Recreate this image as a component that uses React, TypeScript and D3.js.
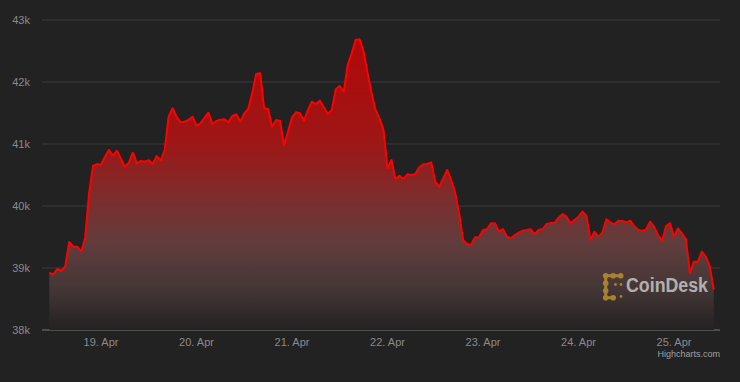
import React from "react";
import * as d3 from "d3";

// Hourly BTC price, first point 18 Apr 2022 11:00 UTC
const startTime = Date.UTC(2022, 3, 18, 11);
const prices: number[] = [
  38924, 38898, 38984, 38956, 39021, 39419, 39344, 39344, 39263, 39478,
  40205, 40645, 40677, 40666, 40795, 40903, 40811, 40892, 40758, 40634,
  40698, 40860, 40688, 40726, 40715, 40737, 40677, 40806, 40731, 40903,
  41440, 41576, 41440, 41350, 41360, 41390, 41440, 41295, 41334, 41420,
  41505, 41323, 41371, 41390, 41398, 41350, 41452, 41479, 41360, 41495,
  41565, 41817, 42129, 42140, 41575, 41565, 41279, 41387, 41371, 40984,
  41199, 41430, 41511, 41495, 41376, 41548, 41682, 41645, 41698, 41591,
  41484, 41548, 41882, 41935, 41843, 42274, 42462, 42677, 42688, 42489,
  42140, 41817, 41548, 41414, 41226, 40608, 40742, 40435, 40489, 40435,
  40511, 40500, 40516, 40624, 40672, 40677, 40704, 40392, 40312, 40446,
  40581, 40419, 40220, 39882, 39452, 39387, 39371, 39495, 39495, 39613,
  39624, 39720, 39720, 39586, 39629, 39505, 39479, 39532, 39570, 39602,
  39615, 39624, 39548, 39613, 39629, 39710, 39725, 39731, 39812, 39871,
  39828, 39720, 39774, 39828, 39909, 39844, 39452, 39586, 39505, 39570,
  39785, 39737, 39705, 39763, 39758, 39737, 39763, 39677, 39613, 39597,
  39624, 39747, 39667, 39532, 39435, 39677, 39720, 39505, 39640, 39560,
  39463, 38914, 39102, 39102, 39263, 39183, 39021, 38656,
];
const yTicks: number[] = [38000, 39000, 40000, 41000, 42000, 43000];
const xTickDates: Date[] = [19, 20, 21, 22, 23, 24, 25].map((d) => new Date(Date.UTC(2022, 3, d)));
const brand = "CoinDesk";
const credit = "Highcharts.com";

type Pt = { t: Date; v: number };
const data: Pt[] = prices.map((v, i) => ({ t: new Date(startTime + i * 3600 * 1000), v }));

const W = 740;
const H = 382;
const plotLeft = 42;
const plotRight = 720;

export default function App() {
  const x = d3
    .scaleUtc()
    .domain([xTickDates[0], xTickDates[xTickDates.length - 1]])
    .range([101, 674]);
  const y = d3.scaleLinear().domain([38000, 43000]).range([330, 20]);
  const fmt = d3.utcFormat("%-d. %b");
  const area = d3
    .area<Pt>()
    .x((d) => x(d.t))
    .y0(y(38000))
    .y1((d) => y(d.v));
  const line = d3
    .line<Pt>()
    .x((d) => x(d.t))
    .y((d) => y(d.v));
  const maxV = d3.max(prices) as number;
  const font = '"Liberation Sans", Arial, Helvetica, sans-serif';

  // logo dots
  const lx = 603;
  const ly = 273;
  const big: [number, number][] = [
    [0, 0], [7.5, 0], [15, 0],
    [0, 7.5], [0, 15],
    [0, 22], [7.5, 22],
  ];
  const small: [number, number][] = [
    [11.5, 10.5], [17, 10.5], [17, 22.5],
  ];

  return (
    <div style={{ position: "fixed", left: 0, top: 0, width: W, height: H }}>
      <svg width={W} height={H} style={{ display: "block" }}>
        <defs>
          <linearGradient id="fillGrad" gradientUnits="userSpaceOnUse" x1={0} x2={0} y1={y(maxV)} y2={y(38000)}>
            <stop offset="0" stopColor="rgb(178,8,8)" />
            <stop offset="0.35" stopColor="rgb(158,22,22)" />
            <stop offset="0.55" stopColor="rgb(125,45,45)" />
            <stop offset="0.7" stopColor="rgb(98,60,60)" />
            <stop offset="0.85" stopColor="rgb(70,55,55)" />
            <stop offset="1" stopColor="rgb(36,34,34)" />
          </linearGradient>
        </defs>
        <rect x={0} y={0} width={W} height={H} fill="#222222" />
        {yTicks.map((t) => (
          <g key={t}>
            <line
              x1={plotLeft}
              x2={plotRight}
              y1={y(t)}
              y2={y(t)}
              stroke={t === 38000 ? "#4d4d4d" : "#3b3b3b"}
              strokeWidth={t === 38000 ? 2 : 1}
            />
            <text x={30} y={y(t) + 4} textAnchor="end" fill="#8a8a8a" fontSize={11} fontFamily={font}>
              {`${t / 1000}k`}
            </text>
          </g>
        ))}
        <path d={area(data) || ""} fill="url(#fillGrad)" />
        <path d={line(data) || ""} fill="none" stroke="#ff0000" strokeWidth={2} strokeLinejoin="round" />
        {xTickDates.map((d) => (
          <text key={d.getTime()} x={x(d)} y={346} textAnchor="middle" fill="#8a8a8a" fontSize={11} fontFamily={font}>
            {fmt(d)}
          </text>
        ))}
        <g opacity={0.85}>
          {big.map(([dx, dy], i) => (
            <circle key={"b" + i} cx={lx + dx + 2.7} cy={ly + dy + 2.7} r={2.8} fill="#b8902e" />
          ))}
          <rect x={lx + 2.7} y={ly + 1.2} width={15} height={3} fill="#b8902e" />
          <rect x={lx + 1.2} y={ly + 2.7} width={3} height={22} fill="#b8902e" />
          <rect x={lx + 2.7} y={ly + 23.2} width={7.5} height={3} fill="#b8902e" />
          {small.map(([dx, dy], i) => (
            <circle key={"s" + i} cx={lx + dx + 1} cy={ly + dy + 1} r={1.4} fill="#b8902e" />
          ))}
          <text
            x={626}
            y={292}
            fill="#c4c4c4"
            fontSize={20}
            fontWeight="bold"
            fontFamily={font}
            textLength={82}
            lengthAdjust="spacingAndGlyphs"
          >
            {brand}
          </text>
        </g>
        <text x={720} y={357} textAnchor="end" fill="#a0a0a0" fontSize={9} fontFamily={font}>
          {credit}
        </text>
      </svg>
    </div>
  );
}
